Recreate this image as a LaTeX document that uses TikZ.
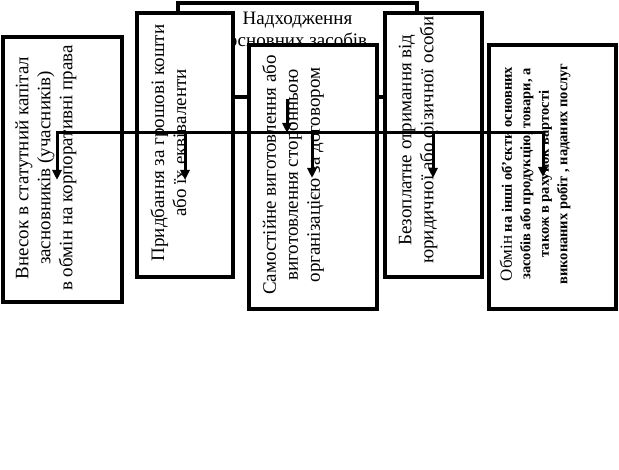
\documentclass[tikz,border=0pt]{standalone}
\usepackage{fontspec}
\setmainfont{Liberation Serif}
\usetikzlibrary{arrows.meta}

\begin{document}
\begin{tikzpicture}[x=1pt,y=1pt]
		\tikzstyle{every node}+=[inner sep=0pt]
		\tikzstyle{blok}=[draw=black, fill=white, line width=3.2pt]
		\tikzstyle{vtxt}=[rotate=90, align=center, font=\fontsize{19}{22}\selectfont]
		\tikzstyle{strl}=[black, line width=3pt, -{Triangle[length=10pt,width=9pt]}]
		\useasboundingbox (0,0) rectangle (619,-470);
		\node [blok, minimum width=239pt, minimum height=94pt] (nadh) at (297.5,-50) {};
		\node [align=center, anchor=north, font=\fontsize{19}{22}\selectfont] (nadhT) at (297.5,-11.8) {Надходження\\основних засобів};
		\node [blok, minimum width=119pt, minimum height=265pt] (v1) at (62.5,-169.5) {};
		\node [blok, minimum width=96pt, minimum height=264pt] (v2) at (185,-145) {};
		\node [blok, minimum width=128pt, minimum height=264pt] (v3) at (313,-177) {};
		\node [blok, minimum width=97pt, minimum height=264pt] (v4) at (433.5,-145) {};
		\node [blok, minimum width=127pt, minimum height=264pt] (v5) at (552.5,-177) {};
		\node [vtxt] (t1) at (46,-168) {Внесок в статутний капітал\\засновників (учасників)\\в обмін на корпоративні права};
		\node [vtxt] (t2) at (168.5,-143) {Придбання за грошові кошти\\або їх еквіваленти};
		\node [vtxt] (t3) at (293,-175) {Самостійне виготовлення або\\виготовлення сторонньою\\організацією за договором};
		\node [vtxt] (t4) at (418,-140) {Безоплатне отримання від\\юридичної або фізичної особи};
		\node [vtxt, font=\fontsize{14.5}{18.5}\selectfont\bfseries] (t5) at (535,-174) {{\mdseries\fontsize{17}{18}\selectfont Обмін} на інші об’єкти основних\\засобів або продукцію, товари, а\\також в рахунок вартості\\виконаних робіт , наданих послуг};
		\coordinate (vuz) at (287,-133);
		\coordinate (sh1) at (57,-133);
		\coordinate (sh2) at (185,-133);
		\coordinate (sh3) at (312,-133);
		\coordinate (sh4) at (433,-133);
		\coordinate (sh5) at (543,-133);
		\coordinate (k1) at (57,-180);
		\coordinate (k2) at (185,-180);
		\coordinate (k3) at (312,-178);
		\coordinate (k4) at (433,-178);
		\coordinate (k5) at (543,-177);
		\draw [strl] (vuz |- nadh.south) -- (vuz);
		\draw [strl] (vuz) -- (sh1) -- (k1);
		\draw [strl] (vuz) -- (sh5) -- (k5);
		\draw [strl] (sh2) -- (k2);
		\draw [strl] (sh3) -- (k3);
		\draw [strl] (sh4) -- (k4);
		\end{tikzpicture}
\end{document}
